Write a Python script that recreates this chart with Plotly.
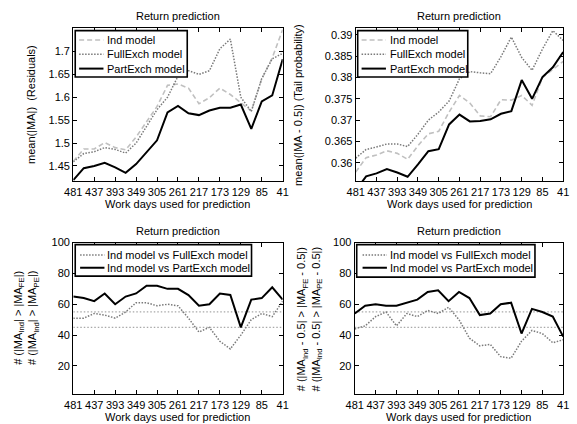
import plotly.graph_objects as go

# ---------------- data ----------------
days = [481, 459, 437, 415, 393, 371, 349, 327, 305, 283, 261, 239, 217, 195, 173, 151, 129, 107, 85, 63, 41]
x_tick_labels = [481, 437, 393, 349, 305, 261, 217, 173, 129, 85, 41]

# Top-left: mean(|MA|) (Residuals)
res_ind = [1.460, 1.487, 1.487, 1.501, 1.490, 1.485, 1.513, 1.547, 1.580, 1.626, 1.629, 1.620, 1.586, 1.599, 1.620, 1.606, 1.588, 1.570, 1.640, 1.686, 1.748]
res_full = [1.459, 1.477, 1.481, 1.490, 1.486, 1.478, 1.500, 1.535, 1.573, 1.600, 1.646, 1.658, 1.650, 1.658, 1.706, 1.727, 1.600, 1.569, 1.641, 1.684, 1.696]
res_part = [1.419, 1.445, 1.450, 1.457, 1.447, 1.435, 1.454, 1.481, 1.506, 1.567, 1.581, 1.565, 1.561, 1.571, 1.577, 1.577, 1.584, 1.531, 1.591, 1.604, 1.683]
res_yticks = [1.45, 1.5, 1.55, 1.6, 1.65, 1.7]
res_ytick_text = ["1.45", "1.5", "1.55", "1.6", "1.65", "1.7"]

# Top-right: mean(|MA - 0.5|) (Tail probability)
tail_ind = [0.3578, 0.3612, 0.3618, 0.3628, 0.3622, 0.3608, 0.3640, 0.3668, 0.3674, 0.3719, 0.3758, 0.3740, 0.3710, 0.3708, 0.3748, 0.3747, 0.3758, 0.3735, 0.3800, 0.3820, 0.3838]
tail_full = [0.3611, 0.3631, 0.3637, 0.3644, 0.3644, 0.3638, 0.3667, 0.3700, 0.3719, 0.3745, 0.3797, 0.3814, 0.3811, 0.3809, 0.3849, 0.3895, 0.3847, 0.3817, 0.3867, 0.3910, 0.3887]
tail_part = [0.3535, 0.3568, 0.3575, 0.3585, 0.3577, 0.3567, 0.3596, 0.3627, 0.3632, 0.3690, 0.3713, 0.3697, 0.3698, 0.3702, 0.3715, 0.3721, 0.3794, 0.3750, 0.3801, 0.3824, 0.3860]
tail_yticks = [0.36, 0.365, 0.37, 0.375, 0.38, 0.385, 0.39]
tail_ytick_text = ["0.36", "0.365", "0.37", "0.375", "0.38", "0.385", "0.39"]

# Bottom-left: counts |MA_Ind| > |MA_x|
cnt_res_fe = [51, 51, 54, 53, 51, 55, 61, 61, 59, 60, 59, 51, 42, 45, 36, 31, 40, 50, 54, 52, 62]
cnt_res_pe = [65, 64, 62, 67, 60, 65, 67, 72, 72, 70, 70, 66, 59, 60, 67, 66, 45, 63, 64, 71, 63]

# Bottom-right: counts |MA_Ind - 0.5| > |MA_x - 0.5|
cnt_tail_fe = [44, 46, 52, 55, 46, 54, 52, 56, 54, 58, 50, 38, 33, 34, 26, 25, 36, 43, 41, 35, 37]
cnt_tail_pe = [54, 59, 60, 59, 59, 61, 63, 68, 69, 62, 68, 64, 53, 54, 60, 61, 41, 57, 55, 52, 39]

ref_levels = [45, 55]
cnt_yticks = [20, 40, 60, 80, 100]

top_legend_names = ["Ind model", "FullExch model", "PartExch model"]
bottom_legend_names = ["Ind model vs FullExch model", "Ind model vs PartExch model"]

# ---------------- figure ----------------
W, H = 577, 424
FONT = "Liberation Sans, Arial, Helvetica, sans-serif"

def px_x(p):
    return p / W

def px_y(p):
    return 1 - p / H

IND = dict(color="#c0c0c0", width=1.6, dash="5px,3px")
FULL = dict(color="#7a7a7a", width=1.5, dash="1.5px,1.5px")
PART = dict(color="#000000", width=2)
REF = dict(color="#a8a8a8", width=1.2, dash="1.5px,2px")

fig = go.Figure()

def add(xa, ya, y, name, line):
    fig.add_trace(go.Scatter(x=days, y=y, mode="lines", name=name, line=line,
                             xaxis=xa, yaxis=ya, showlegend=False))

add("x", "y", res_ind, top_legend_names[0], IND)
add("x", "y", res_full, top_legend_names[1], FULL)
add("x", "y", res_part, top_legend_names[2], PART)

add("x2", "y2", tail_ind, top_legend_names[0], IND)
add("x2", "y2", tail_full, top_legend_names[1], FULL)
add("x2", "y2", tail_part, top_legend_names[2], PART)

for xa, ya in [("x3", "y3"), ("x4", "y4")]:
    for lv in ref_levels:
        fig.add_trace(go.Scatter(x=[days[0], days[-1]], y=[lv, lv], mode="lines",
                                 line=REF, xaxis=xa, yaxis=ya, showlegend=False,
                                 hoverinfo="skip"))

add("x3", "y3", cnt_res_fe, bottom_legend_names[0], FULL)
add("x3", "y3", cnt_res_pe, bottom_legend_names[1], PART)
add("x4", "y4", cnt_tail_fe, bottom_legend_names[0], FULL)
add("x4", "y4", cnt_tail_pe, bottom_legend_names[1], PART)

# plot areas (pixels)
boxes = {
    1: (66, 281, 22, 178),
    2: (356, 569, 22, 178),
    3: (66, 281, 240, 394),
    4: (355, 569, 240, 394),
}
yranges = {1: [1.416, 1.752], 2: [0.3556, 0.3917], 3: [1.5, 100], 4: [1.5, 100]}
ytickinfo = {1: (res_yticks, res_ytick_text), 2: (tail_yticks, tail_ytick_text),
             3: (cnt_yticks, [str(v) for v in cnt_yticks]), 4: (cnt_yticks, [str(v) for v in cnt_yticks])}

axis_common = dict(showline=True, linecolor="black", linewidth=1.3, mirror="ticks",
                   ticks="inside", ticklen=4, tickcolor="black", tickwidth=1,
                   showgrid=False, zeroline=False,
                   tickfont=dict(family=FONT, size=11, color="black"))

layout = {}
for i, (x0, x1, y0, y1) in boxes.items():
    sfx = "" if i == 1 else str(i)
    layout["xaxis" + sfx] = dict(axis_common, domain=[px_x(x0), px_x(x1)],
                                 range=[days[0], days[-1]], tickvals=x_tick_labels,
                                 ticktext=[str(v) for v in x_tick_labels],
                                 anchor="y" + sfx)
    tv, tt = ytickinfo[i]
    layout["yaxis" + sfx] = dict(axis_common, domain=[px_y(y1), px_y(y0)],
                                 range=yranges[i], tickvals=tv, ticktext=tt,
                                 anchor="x" + sfx)

ann = []
shapes = []

def text(x, y, s, angle=0, size=11, xanchor="center"):
    ann.append(dict(x=px_x(x), y=px_y(y), xref="paper", yref="paper", text=s,
                    showarrow=False, textangle=angle, xanchor=xanchor, yanchor="middle",
                    font=dict(family=FONT, size=size, color="black")))

# manual legends drawn on top of the plot areas
def legend(bx0, bx1, by0, by1, sx0, sx1, tx, rows, names, styles):
    shapes.append(dict(type="rect", xref="paper", yref="paper", layer="above",
                       x0=px_x(bx0), x1=px_x(bx1), y0=px_y(by1), y1=px_y(by0),
                       fillcolor="white", line=dict(color="black", width=1.6)))
    for ry, nm, st in zip(rows, names, styles):
        ln = dict(color=st["color"], width=st["width"])
        if "dash" in st:
            ln["dash"] = st["dash"]
        shapes.append(dict(type="line", xref="paper", yref="paper", layer="above",
                           x0=px_x(sx0), x1=px_x(sx1), y0=px_y(ry), y1=px_y(ry), line=ln))
        text(tx, ry, nm, xanchor="left")

legend(68, 183, 25, 72, 72, 97, 99, [34.5, 49, 63.5], top_legend_names, [IND, FULL, PART])
legend(358, 471, 25, 72, 362, 387, 389, [34.5, 49, 63.5], top_legend_names, [IND, FULL, PART])
legend(68, 249, 242, 274, 73, 98, 99, [252.5, 265.5], bottom_legend_names, [FULL, PART])
legend(357, 540, 242, 275, 363, 388, 389, [252.5, 265.5], bottom_legend_names, [FULL, PART])

for i, (x0, x1, y0, y1) in boxes.items():
    cx = (x0 + x1) / 2
    text(cx, y0 - 12, "Return prediction")
    text(cx, y1 + 23, "Work days used for prediction")

text(22, 100, "mean(|MA|)  (Residuals)", -90)
text(296, 100, "mean(|MA - 0.5|) (Tail probability)", -90)
text(18, 317, "# (|MA<sub>Ind</sub>| > |MA<sub>FE</sub>|)<br># (|MA<sub>Ind</sub>| > |MA<sub>PE</sub>|)", -90)
text(309, 317, "# (|MA<sub>Ind</sub> - 0.5| > |MA<sub>FE</sub> - 0.5|)<br># (|MA<sub>Ind</sub> - 0.5| > |MA<sub>PE</sub> - 0.5|)", -90)

fig.update_layout(width=W, height=H, margin=dict(l=0, r=0, t=0, b=0),
                  paper_bgcolor="white", plot_bgcolor="white", showlegend=False,
                  font=dict(family=FONT, size=11, color="black"),
                  annotations=ann, shapes=shapes, **layout)

fig.write_html("out.html")
